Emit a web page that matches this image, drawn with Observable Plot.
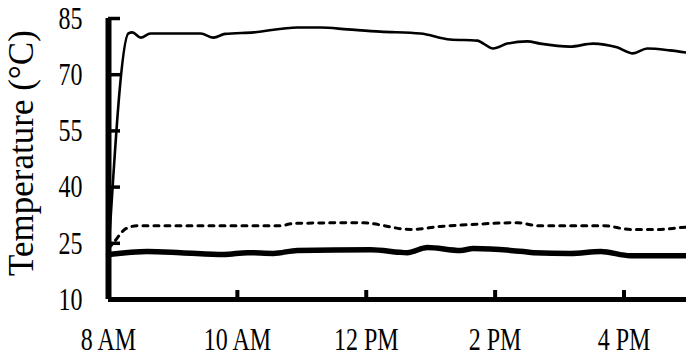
<!DOCTYPE html>
<html>
<head>
<meta charset="utf-8">
<script src="https://cdn.jsdelivr.net/npm/d3@7"></script>
<script src="https://cdn.jsdelivr.net/npm/@observablehq/plot@0.6"></script>
<style>
  html, body { margin: 0; padding: 0; background: #fff; }
  svg { display: block; }
</style>
</head>
<body>
<div id="chart"></div>
<script>
// Hour of day (24h clock) and temperature in °C for each series
const hotHours = [8, 8.31, 8.37, 8.5, 8.65, 9.04, 9.43, 9.63, 9.81, 10.25, 10.93, 11.29, 11.71, 12.22, 12.84, 13.3, 13.72, 13.97, 14.19, 14.5, 14.7, 15.16, 15.52, 15.89, 16.14, 16.36, 16.71, 16.97];
const hotTemps = [22.8, 81.0, 81.3, 79.9, 81.0, 81.0, 81.0, 79.9, 80.9, 81.3, 82.6, 82.6, 82.1, 81.5, 81.0, 79.4, 79.1, 77.0, 78.3, 78.9, 78.3, 77.5, 78.3, 77.3, 75.7, 77.0, 76.5, 75.9];

const midHours = [8, 8.08, 8.27, 8.45, 9.0, 10.0, 10.67, 10.87, 11.96, 12.07, 12.69, 13.15, 13.62, 14.35, 14.66, 15.18, 15.68, 16.1, 16.57, 16.88, 16.97];
const midTemps = [23.6, 25.2, 28.9, 29.7, 29.7, 29.7, 29.7, 30.3, 30.5, 30.3, 28.7, 29.5, 30.0, 30.5, 29.7, 29.7, 29.7, 28.7, 28.7, 29.2, 29.3];

const lowHours = [8, 8.6, 9.12, 9.79, 10.16, 10.56, 10.93, 12.07, 12.64, 12.95, 13.46, 13.66, 14.44, 14.6, 15.17, 15.64, 16.1, 16.97];
const lowTemps = [22.0, 22.8, 22.5, 22.0, 22.5, 22.3, 23.1, 23.3, 22.5, 23.9, 23.1, 23.6, 22.8, 22.5, 22.3, 22.8, 21.7, 21.7];

const yTicks = [10, 25, 40, 55, 70, 85];
const xTicks = [8, 10, 12, 14, 16];
const xTickLabels = ["8 AM", "10 AM", "12 PM", "2 PM", "4 PM"];
const yTitle = "Temperature (°C)";

const toRows = (hours, temps) => hours.map((h, i) => ({hour: h, temp: temps[i]}));
const hot = toRows(hotHours, hotTemps);
const mid = toRows(midHours, midTemps);
const low = toRows(lowHours, lowTemps);

const font = "'Liberation Serif', 'Times New Roman', serif";

const yTickLen = 12, xTickLen = 9;

const chart = Plot.plot({
  width: 686,
  height: 362,
  marginLeft: 108,
  marginRight: 0,
  marginTop: 18,
  marginBottom: 63,
  style: {background: "#fff", color: "#000", fontFamily: font},
  x: {domain: [8, 16.97]},
  y: {domain: [10, 85]},
  marks: [
    Plot.line(low, {x: "hour", y: "temp", stroke: "#000", strokeWidth: 5.5, curve: "monotone-x", strokeLinecap: "round"}),
    Plot.line(mid, {x: "hour", y: "temp", stroke: "#000", strokeWidth: 3, strokeDasharray: "5,6", curve: "monotone-x"}),
    Plot.line(hot, {x: "hour", y: "temp", stroke: "#000", strokeWidth: 2.6, curve: "monotone-x"}),
    Plot.ruleX([8], {stroke: "#000", strokeWidth: 6}),
    Plot.ruleY([10], {stroke: "#000", strokeWidth: 5}),
    // inward tick marks (axis ticks shifted inside the frame)
    Plot.axisY({ticks: yTicks.slice(1), tickSize: yTickLen, dx: yTickLen, tickFormat: () => "", strokeWidth: 3.5, stroke: "#000", label: null}),
    Plot.axisX({ticks: xTicks.slice(1), tickSize: xTickLen, dy: -xTickLen, tickFormat: () => "", strokeWidth: 4, stroke: "#000", label: null}),
    Plot.axisY({ticks: yTicks, tickSize: 0, tickPadding: 26, fontSize: 32, fontFamily: font, label: null}),
    Plot.axisX({ticks: xTicks, tickSize: 0, tickPadding: 28, fontSize: 32, fontFamily: font,
      tickFormat: (d) => xTickLabels[xTicks.indexOf(d)], label: null}),
    Plot.axisY({ticks: [], tickSize: 0, label: yTitle, labelAnchor: "center", labelOffset: 100, labelArrow: "none", fontSize: 35, fontFamily: font})
  ]
});

d3.select(chart).selectAll("g[aria-label='y-axis tick label'] text, g[aria-label='x-axis tick label'] text")
  .each(function() {
    const t = this.getAttribute("transform") || "";
    this.setAttribute("transform", t + " scale(0.75,1)");
  });
d3.select(chart).selectAll("g[aria-label='y-axis label']")
  .each(function() {
    const t = this.getAttribute("transform") || "";
    this.setAttribute("transform", "translate(0,-6) " + t);
  });

document.getElementById("chart").appendChild(chart);
</script>
</body>
</html>
